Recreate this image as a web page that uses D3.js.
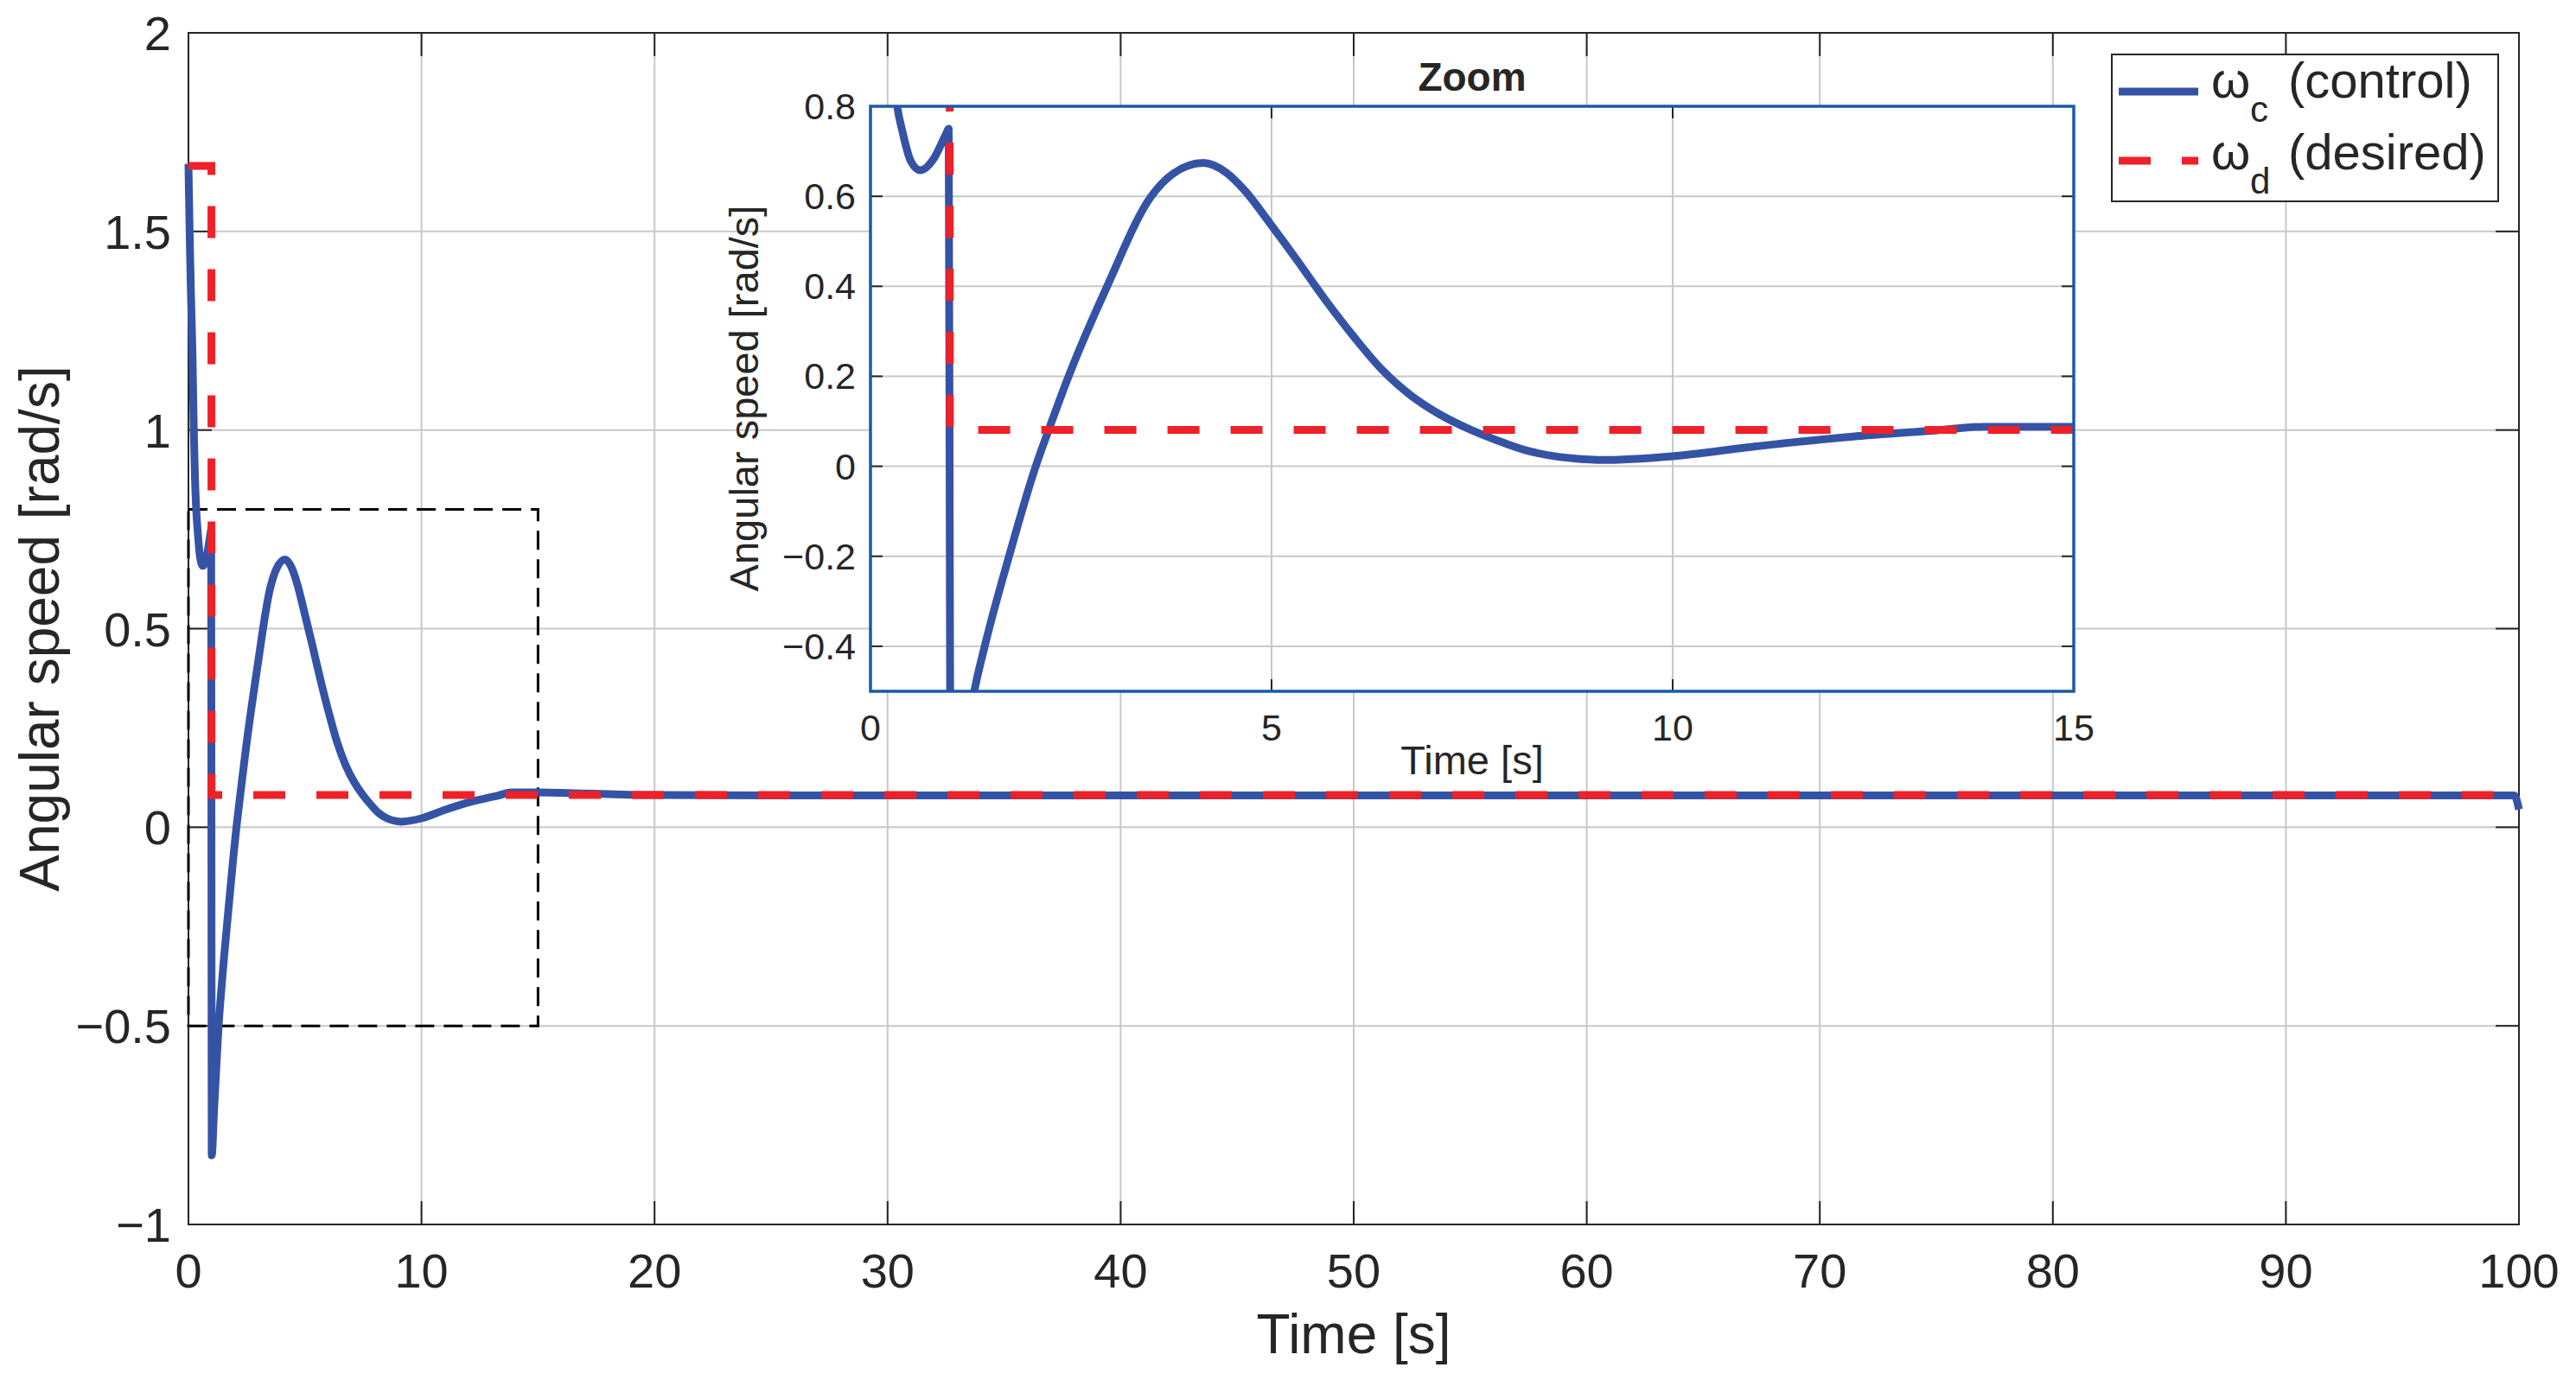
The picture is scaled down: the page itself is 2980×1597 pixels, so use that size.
<!DOCTYPE html>
<html>
<head>
<meta charset="utf-8">
<script src="https://d3js.org/d3.v7.min.js"></script>
<style>
  body { margin: 0; background: #fff; }
  text { font-family: "Liberation Sans", Arial, Helvetica, sans-serif; fill: #262626; }
  .grid line { stroke: #c8c8c8; stroke-width: 2px; }
  .tick-mark { stroke: #262626; stroke-width: 2px; }
</style>
</head>
<body>
<svg id="chart"></svg>
<script>
// control signal (blue)
const timeControl = [0, 0.02, 0.05, 0.1, 0.17, 0.23, 0.28, 0.333, 0.405, 0.5, 0.62, 0.79, 0.943, 0.975,
    0.99, 1.0, 1.1, 1.2, 1.294, 1.424, 1.727, 2.06, 2.22, 2.47, 2.95, 3.5, 3.77, 4.15, 4.44, 4.66,
    5.0, 5.31, 5.665, 6.025, 6.38, 6.74, 7.1, 7.46, 7.82, 8.18, 8.54, 8.89, 9.1, 10.0, 11.0, 12.15,
    13.3, 13.87, 14.96, 17, 20, 25, 99.8, 100];
const omegaControl = [1.67, 1.6, 1.5, 1.36, 1.2, 1.0, 0.88, 0.8, 0.739, 0.679, 0.658, 0.684, 0.739, 0.75,
    -0.3, -0.826, -0.71, -0.6, -0.5, -0.4, -0.2, 0, 0.08, 0.2, 0.4, 0.6, 0.65, 0.674, 0.652, 0.614,
    0.535, 0.46, 0.371, 0.288, 0.214, 0.157, 0.115, 0.083, 0.057, 0.035, 0.022, 0.0157, 0.014, 0.0225, 0.0436, 0.0645,
    0.08, 0.0877, 0.0877, 0.085, 0.081, 0.08, 0.08, 0.045];

// desired signal (red dashed)
const timeDesired = [0, 0.985, 0.99, 100];
const omegaDesired = [1.665, 1.665, 0.081, 0.081];

// axes ticks
const mainXTicks = [0, 10, 20, 30, 40, 50, 60, 70, 80, 90, 100];
const mainYTicks = [-1, -0.5, 0, 0.5, 1, 1.5, 2];
const zoomXTicks = [0, 5, 10, 15];
const zoomYTicks = [-0.4, -0.2, 0, 0.2, 0.4, 0.6, 0.8];
const zoomBox = { t0: 0, t1: 15, w0: -0.5, w1: 0.8 };

const legendLabels = [
    { sym: 'ω', sub: 'c', rest: '(control)' },
    { sym: 'ω', sub: 'd', rest: '(desired)' }
];

const blue = '#3453a5';
const red = '#ee2028';
const frameBlue = '#1a5aa8';

const W = 2980, H = 1597;

window.addEventListener('load', function() {
    console.log('window loaded.');
    drawChart();
});

function fmt(v)
{
    return String(v).replace('-', '\u2212');
}

function seriesPoints(ts, ws)
{
    return ts.map((t, i) => [t, ws[i]]);
}

function drawChart()
{
    const svg = d3.select('#chart')
        .attr('width', W)
        .attr('height', H);

    const x = d3.scaleLinear().domain([0, 100]).range([218, 2914]);
    const y = d3.scaleLinear().domain([-1, 2]).range([1417, 38]);

    drawAxesBox(svg, x, y, mainXTicks, mainYTicks, 27, '#262626', 2);

    // tick labels
    svg.append('g').selectAll('text')
        .data(mainXTicks)
        .join('text')
            .attr('x', d => x(d))
            .attr('y', 1490)
            .attr('text-anchor', 'middle')
            .style('font-size', '56px')
            .text(d => fmt(d));
    svg.append('g').selectAll('text')
        .data(mainYTicks)
        .join('text')
            .attr('x', 198)
            .attr('y', d => y(d) + 20)
            .attr('text-anchor', 'end')
            .style('font-size', '56px')
            .text(d => fmt(d));

    svg.append('text')
        .attr('x', (x(0) + x(100)) / 2)
        .attr('y', 1566)
        .attr('text-anchor', 'middle')
        .style('font-size', '64px')
        .text('Time [s]');
    svg.append('text')
        .attr('transform', `translate(68,${(y(2) + y(-1)) / 2}) rotate(-90)`)
        .attr('text-anchor', 'middle')
        .style('font-size', '64px')
        .text('Angular speed [rad/s]');

    // zoom rectangle
    svg.append('rect')
        .attr('x', x(zoomBox.t0))
        .attr('y', y(zoomBox.w1))
        .attr('width', x(zoomBox.t1) - x(zoomBox.t0))
        .attr('height', y(zoomBox.w0) - y(zoomBox.w1))
        .attr('fill', 'none')
        .attr('stroke', '#000')
        .attr('stroke-width', 3)
        .attr('stroke-dasharray', '22,11');

    drawSeries(svg, x, y, null);

    drawInset(svg);
    drawLegend(svg);
}

function drawAxesBox(g, x, y, xt, yt, tickLen, frameColor, frameWidth)
{
    const [x0, x1] = x.range();
    const [y0, y1] = y.range(); // y0 bottom, y1 top

    g.append('rect')
        .attr('x', x0).attr('y', y1)
        .attr('width', x1 - x0).attr('height', y0 - y1)
        .attr('fill', '#fff');

    const grid = g.append('g').classed('grid', true);
    grid.selectAll('line.gx')
        .data(xt)
        .join('line')
            .classed('gx', true)
            .attr('x1', d => x(d)).attr('x2', d => x(d))
            .attr('y1', y0).attr('y2', y1);
    grid.selectAll('line.gy')
        .data(yt)
        .join('line')
            .classed('gy', true)
            .attr('x1', x0).attr('x2', x1)
            .attr('y1', d => y(d)).attr('y2', d => y(d));

    // inward ticks on all four sides
    const tg = g.append('g');
    xt.forEach(d => {
        tg.append('line').classed('tick-mark', true)
            .attr('x1', x(d)).attr('x2', x(d)).attr('y1', y0).attr('y2', y0 - tickLen);
        tg.append('line').classed('tick-mark', true)
            .attr('x1', x(d)).attr('x2', x(d)).attr('y1', y1).attr('y2', y1 + tickLen);
    });
    yt.forEach(d => {
        tg.append('line').classed('tick-mark', true)
            .attr('x1', x0).attr('x2', x0 + tickLen).attr('y1', y(d)).attr('y2', y(d));
        tg.append('line').classed('tick-mark', true)
            .attr('x1', x1).attr('x2', x1 - tickLen).attr('y1', y(d)).attr('y2', y(d));
    });

    g.append('rect')
        .classed('frame', true)
        .attr('x', x0).attr('y', y1)
        .attr('width', x1 - x0).attr('height', y0 - y1)
        .attr('fill', 'none')
        .attr('stroke', frameColor)
        .attr('stroke-width', frameWidth);
}

function drawSeries(g, x, y, clipId)
{
    const ctrl = d3.line()
        .x(d => x(d[0]))
        .y(d => y(d[1]))
        .curve(d3.curveMonotoneX);
    const des = d3.line()
        .x(d => x(d[0]))
        .y(d => y(d[1]));

    const sg = g.append('g');
    if (clipId) sg.attr('clip-path', `url(#${clipId})`);

    sg.append('path')
        .attr('d', ctrl(seriesPoints(timeControl, omegaControl)))
        .attr('fill', 'none')
        .attr('stroke', blue)
        .attr('stroke-width', 9)
        .attr('stroke-linejoin', 'round');
    sg.append('path')
        .attr('d', des(seriesPoints(timeDesired, omegaDesired)))
        .attr('fill', 'none')
        .attr('stroke', red)
        .attr('stroke-width', 9)
        .attr('stroke-dasharray', '37,36');
}

function drawInset(svg)
{
    const x = d3.scaleLinear().domain([zoomBox.t0, zoomBox.t1]).range([1007, 2399]);
    const y = d3.scaleLinear().domain([zoomBox.w0, zoomBox.w1]).range([800, 123]);

    const g = svg.append('g').attr('id', 'inset');

    g.append('clipPath').attr('id', 'insetClip')
        .append('rect')
            .attr('x', 1007).attr('y', 123)
            .attr('width', 2399 - 1007).attr('height', 800 - 123);

    drawAxesBox(g, x, y, zoomXTicks, zoomYTicks, 14, frameBlue, 3.5);
    // frame must sit over the data, redraw after series
    g.select('rect.frame').remove();

    drawSeries(g, x, y, 'insetClip');

    g.append('rect')
        .attr('x', 1007).attr('y', 123)
        .attr('width', 2399 - 1007).attr('height', 800 - 123)
        .attr('fill', 'none')
        .attr('stroke', frameBlue)
        .attr('stroke-width', 3.5);

    g.append('g').selectAll('text')
        .data(zoomXTicks)
        .join('text')
            .attr('x', d => x(d))
            .attr('y', 857)
            .attr('text-anchor', 'middle')
            .style('font-size', '43px')
            .text(d => fmt(d));
    g.append('g').selectAll('text')
        .data(zoomYTicks)
        .join('text')
            .attr('x', 990)
            .attr('y', d => y(d) + 15)
            .attr('text-anchor', 'end')
            .style('font-size', '43px')
            .text(d => fmt(d));

    g.append('text')
        .attr('x', 1703)
        .attr('y', 896)
        .attr('text-anchor', 'middle')
        .style('font-size', '47px')
        .text('Time [s]');
    g.append('text')
        .attr('transform', 'translate(877,461) rotate(-90)')
        .attr('text-anchor', 'middle')
        .style('font-size', '47px')
        .text('Angular speed [rad/s]');
    g.append('text')
        .attr('x', 1703)
        .attr('y', 105)
        .attr('text-anchor', 'middle')
        .style('font-size', '46px')
        .style('font-weight', 'bold')
        .text('Zoom');
}

function drawLegend(svg)
{
    const lg = svg.append('g').attr('id', 'legend');
    lg.append('rect')
        .attr('x', 2443).attr('y', 63)
        .attr('width', 447).attr('height', 170)
        .attr('fill', '#fff')
        .attr('stroke', '#262626')
        .attr('stroke-width', 2);

    const rowY = [106, 186];
    const baseY = [113, 196];
    const styles = [
        { color: blue, dash: null },
        { color: red, dash: '37,36' }
    ];

    legendLabels.forEach((lab, i) => {
        const ln = lg.append('line')
            .attr('x1', 2451).attr('x2', 2543)
            .attr('y1', rowY[i]).attr('y2', rowY[i])
            .attr('stroke', styles[i].color)
            .attr('stroke-width', 9);
        if (styles[i].dash) ln.attr('stroke-dasharray', styles[i].dash);

        const t = lg.append('text').style('font-size', '58px');
        t.append('tspan').attr('x', 2558).attr('y', baseY[i]).text(lab.sym);
        t.append('tspan').attr('x', 2603).attr('y', baseY[i] + 28)
            .style('font-size', '42px').text(lab.sub);
        t.append('tspan').attr('x', 2647).attr('y', baseY[i]).text(lab.rest);
    });
}
</script>
</body>
</html>
